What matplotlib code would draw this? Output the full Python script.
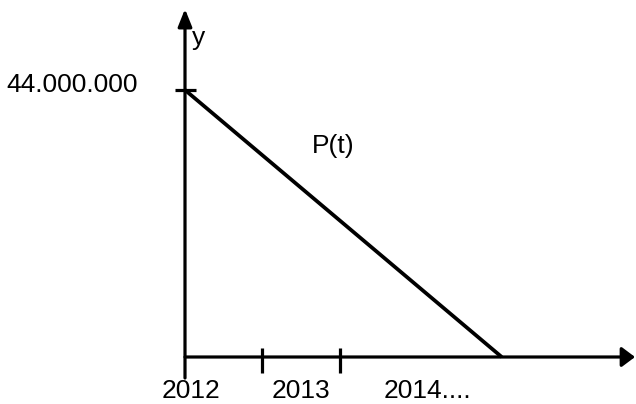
import matplotlib
matplotlib.use("Agg")
import matplotlib.pyplot as plt

plt.rcParams['font.family'] = ['Liberation Sans', 'DejaVu Sans']

# Data
t_values = [2012, 2016.1]          # time (years)
p_values = [44_000_000, 0]         # P(t)
tick_years = [2013, 2014]
y_tick_value = 44_000_000
year_labels = ["2012", "2013", "2014...."]
y_label_text = "44.000.000"

W, H = 636, 404
fig = plt.figure(figsize=(W / 100, H / 100), dpi=100)
ax = fig.add_axes([0, 0, 1, 1])
ax.axis('off')

# Scale: 2012 at pixel 185, 77.25 px per year; y=0 at pixel 357, 44e6 at pixel 90
X0PX, PXYR = 185, 77.25
Y0PX, YTOPPX = 357, 90
ppu = (Y0PX - YTOPPX) / y_tick_value
ax.set_xlim(2012 - X0PX / PXYR, 2012 + (W - X0PX) / PXYR)
ax.set_ylim(-(H - Y0PX) / ppu, Y0PX / ppu)

def px2x(px):
    return 2012 + (px - X0PX) / PXYR

def px2y(py):
    return (Y0PX - py) / ppu

lw = 2.3
# y axis with arrow
ax.annotate('', xy=(2012, px2y(9)), xytext=(2012, px2y(378)),
            arrowprops=dict(arrowstyle='-|>,head_length=1.05,head_width=0.42',
                            mutation_scale=10, lw=lw, color='black',
                            shrinkA=0, shrinkB=0), annotation_clip=False)
# x axis with arrow
ax.annotate('', xy=(px2x(635), 0), xytext=(2012, 0),
            arrowprops=dict(arrowstyle='-|>,head_length=0.8,head_width=0.6',
                            mutation_scale=10, lw=lw, color='black',
                            shrinkA=0, shrinkB=0), annotation_clip=False)

# ticks
for yr in tick_years:
    ax.plot([yr, yr], [px2y(348), px2y(373)], color='black', lw=lw,
            solid_capstyle='butt')
ax.plot([px2x(175), px2x(196)], [y_tick_value, y_tick_value], color='black',
        lw=lw, solid_capstyle='butt')

# P(t) line
ax.plot(t_values, p_values, color='black', lw=2.7, solid_capstyle='butt')

fs = 19
ax.text(px2x(6), px2y(92), y_label_text, fontsize=fs, ha='left', va='baseline')
ax.text(px2x(192), px2y(45), "y", fontsize=fs, ha='left', va='baseline')
ax.text(px2x(312), px2y(153), "P(t)", fontsize=fs, ha='left', va='baseline')
for lbl, xpx in zip(year_labels, [162, 272, 384]):
    ax.text(px2x(xpx), px2y(398), lbl, fontsize=fs, ha='left', va='baseline')

fig.savefig("out.png", dpi=100)
